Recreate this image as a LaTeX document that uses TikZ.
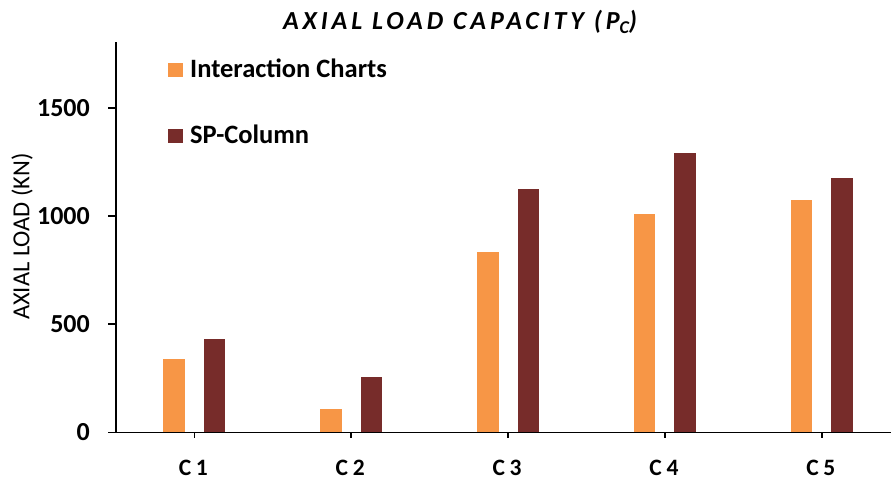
\documentclass[tikz,border=0pt]{standalone}
\usepackage{fontspec}
\setmainfont{Carlito}
\newfontfamily\titlefont[LetterSpace=15]{Carlito}
\newfontfamily\catfont[LetterSpace=20]{Carlito}
\definecolor{orng}{HTML}{F79646}
\definecolor{drk}{HTML}{772C2A}
\begin{document}
\begin{tikzpicture}[x=1pt,y=-1pt,
  axisline/.style={line width=1.6pt,black},
  ticklab/.style={font=\fontsize{26}{26}\selectfont\bfseries,anchor=east,inner sep=0pt},
  catlab/.style={font=\fontsize{23.5}{23.5}\selectfont\catfont\bfseries,anchor=base,inner sep=0pt},
  legtext/.style={font=\fontsize{26.5}{26.5}\selectfont\bfseries,anchor=base west,inner sep=0pt},
  legbox/.style={minimum size=14.5pt,inner sep=0pt,anchor=north west}]
\useasboundingbox (0,0) rectangle (891,480);
\def\yz{432.5}
\def\ys{0.2165}
% bars
\foreach \i/\a/\b in {1/338/433,2/107/255,3/835/1123,4/1009/1292,5/1072/1174}{
  \pgfmathsetmacro\cx{194.4+156.85*(\i-1)}
  \fill[orng] (\cx-31,\yz) rectangle (\cx-9.5,{\yz-\ys*\a});
  \fill[drk] (\cx+9.5,\yz) rectangle (\cx+31,{\yz-\ys*\b});
  \draw[axisline] (\cx,\yz) -- (\cx,438);
  \node[catlab] (c\i) at (\cx-1,475) {C\i};
}
% axes
\coordinate (ytop) at (116,42);
\coordinate (orig) at (116,\yz);
\coordinate (xend) at (891,\yz);
\draw[axisline] (ytop) -- (orig) -- (xend);
\foreach \v in {0,500,1000,1500}{
  \draw[axisline] (108,{\yz-\ys*\v}) -- (116,{\yz-\ys*\v});
  \node[ticklab] (t\v) at (90,{\yz-\ys*\v}) {\v};
}
% y label
\node[rotate=90,font=\fontsize{24.5}{24.5}\selectfont,inner sep=0pt] (ylab) at (22,236.5) {AXIAL LOAD (KN)};
% title
\node[font=\fontsize{26}{26}\selectfont\titlefont\bfseries\itshape,inner sep=0pt,anchor=base] (title) at (460,29) {AXIAL LOAD CAPACITY (P\raisebox{-4pt}{\fontsize{18}{18}\selectfont C})};
% legend
\node[legbox,fill=orng] (lb1) at (168,62.3) {};
\node[legtext] (lt1) at (190,77) {Interaction Charts};
\node[legbox,fill=drk] (lb2) at (168,128.5) {};
\node[legtext] (lt2) at (190,143) {SP-Column};
\end{tikzpicture}
\end{document}
